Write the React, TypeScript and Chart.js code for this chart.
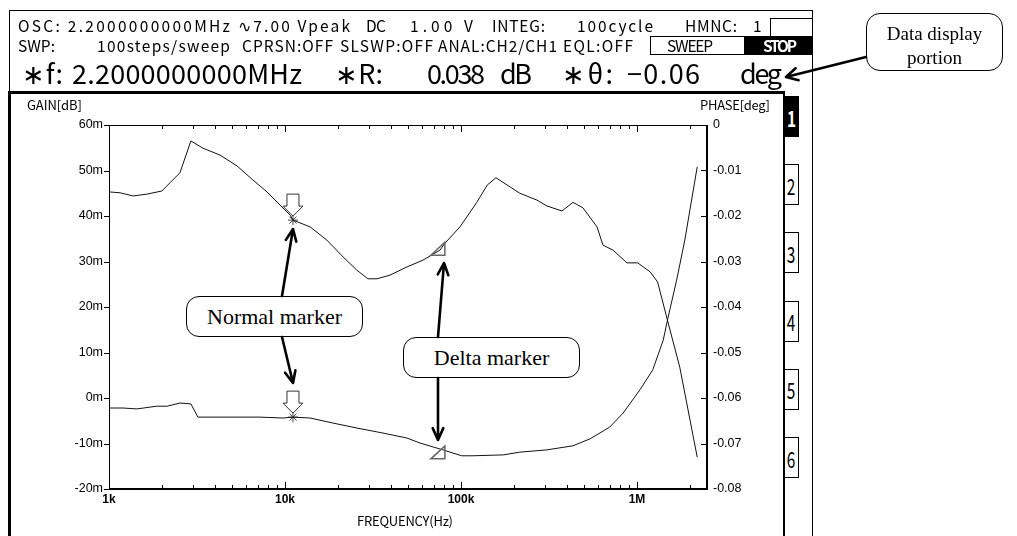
import React, { useEffect, useLayoutEffect, useRef } from 'react';
import { Chart, registerables } from 'chart.js';
Chart.register(...registerables);

// ---------- data ----------
const gainFreq = [1000, 1155, 1370, 1640, 2000, 2220, 2530, 2920, 3420, 4270, 5340, 6580, 7900, 9370, 10700, 11100, 13900, 17300, 21400, 25600, 29600, 33300, 39500, 49300, 60800, 76000, 81000, 98700, 123000, 141000, 158000, 190000, 216000, 270000, 308000, 375000, 433000, 493000, 593000, 641000, 731000, 877000, 1010000, 1190000, 1310000, 1490000, 1750000, 2200000];
const gainValues = [45.3, 45.1, 44.4, 44.8, 45.5, 47.3, 49.5, 56.5, 54.9, 53.4, 51.0, 47.9, 45.3, 42.4, 40.2, 39.1, 37.6, 34.7, 31.0, 28.1, 26.2, 26.2, 27.0, 28.8, 30.3, 32.5, 34.0, 37.6, 43.0, 46.8, 48.4, 46.4, 45.0, 43.5, 42.2, 41.1, 43.0, 41.8, 37.6, 33.6, 32.5, 29.7, 29.7, 27.7, 25.5, 17.1, 6.8, -13.0];

const phaseFreq = [1000, 1200, 1440, 1870, 2140, 2530, 2920, 3200, 4110, 7210, 9740, 11100, 13900, 18700, 25600, 36000, 49300, 58500, 78900, 101000, 117000, 174000, 216000, 308000, 433000, 540000, 700000, 835000, 1040000, 1230000, 1410000, 1490000, 1680000, 1870000, 2200000];
const phaseValues = [-0.0622, -0.0622, -0.0624, -0.0618, -0.0618, -0.0611, -0.0613, -0.0642, -0.0642, -0.0642, -0.0644, -0.0642, -0.0644, -0.0655, -0.0666, -0.0677, -0.0688, -0.0699, -0.0714, -0.0727, -0.0727, -0.0725, -0.0719, -0.0714, -0.0705, -0.0690, -0.0664, -0.0633, -0.0582, -0.0538, -0.0473, -0.0429, -0.0341, -0.0253, -0.0092];

const normalMarkerFreq = 11100;
const normalMarkerGain = 39.1;
const normalMarkerPhase = -0.0642;
const deltaMarkerFreq = 81000;
const deltaMarkerGain = 34.0;
const deltaMarkerPhase = -0.0714;

const freqDecades = [1000, 10000, 100000, 1000000];
const freqDecadeLabels = ['1k', '10k', '100k', '1M'];
const freqMinorSteps = [2, 3, 4, 5, 6, 7, 8, 9];
const freqMin = 1000;
const freqMax = 2500000;

const gainTicks = [60, 50, 40, 30, 20, 10, 0, -10, -20];
const gainTickLabels = ['60m', '50m', '40m', '30m', '20m', '10m', '0m', '-10m', '-20m'];
const phaseTicks = [0, -0.01, -0.02, -0.03, -0.04, -0.05, -0.06, -0.07, -0.08];
const phaseTickLabels = ['0', '-0.01', '-0.02', '-0.03', '-0.04', '-0.05', '-0.06', '-0.07', '-0.08'];

const tabLabels = ['1', '2', '3', '4', '5', '6'];

// ---------- header layout ----------
const row1: [string, number, number][] = [
  ['OSC: 2.2000000000MHz', 18, 212],
  ['∿7.00 Vpeak', 238, 112],
  ['DC', 366, 20],
  ['1.00 V', 410, 63],
  ['INTEG:', 492, 53],
  ['100cycle', 577, 76],
  ['HMNC:', 685, 52],
  ['1', 753, 7],
];
const row2: [string, number, number][] = [
  ['SWP:', 18, 37],
  ['100steps/sweep', 97, 133],
  ['CPRSN:OFF', 242, 91],
  ['SLSWP:OFF', 340, 93],
  ['ANAL:CH2/CH1', 438, 119],
  ['EQL:OFF', 563, 70],
  ['SWEEP', 667, 46],
];
const row3: [string, number, number][] = [
  ['∗f:', 22, 41],
  ['2.2000000000MHz', 72, 230],
  ['∗R:', 335, 48],
  ['0.038', 427, 58],
  ['dB', 500, 32],
  ['∗θ:', 562, 51],
  ['−0.06', 627, 73],
  ['deg', 740, 42],
];

const GOTHIC = '"Noto Sans CJK JP", "Noto Sans", sans-serif';
const SERIF = '"Liberation Serif", "DejaVu Serif", serif';

function FitText(props: { text: string; x: number; cy: number; w: number; size: number; family?: string; weight?: number | string; color?: string }) {
  const { text, x, cy, w, size, family = GOTHIC, weight = 400, color = '#000' } = props;
  const ref = useRef<HTMLSpanElement>(null);
  useLayoutEffect(() => {
    const el = ref.current;
    if (!el) return;
    const fit = () => {
      el.style.letterSpacing = '0px';
      const nat = el.getBoundingClientRect().width;
      const n = Array.from(text).length;
      if (n > 1) el.style.letterSpacing = `${(w - nat) / (n - 1)}px`;
    };
    fit();
    (document as any).fonts?.ready?.then(fit);
  }, [text, w, size]);
  return (
    <span
      ref={ref}
      style={{
        position: 'absolute', left: x, top: cy - size * 0.513, fontSize: size, lineHeight: `${size}px`,
        fontFamily: family, fontWeight: weight as any, color, whiteSpace: 'pre',
      }}
    >{text}</span>
  );
}

function arrowPath(x1: number, y1: number, x2: number, y2: number, head = 13, spread = 0.42) {
  const a = Math.atan2(y2 - y1, x2 - x1);
  const hx1 = x2 - head * Math.cos(a - spread), hy1 = y2 - head * Math.sin(a - spread);
  const hx2 = x2 - head * Math.cos(a + spread), hy2 = y2 - head * Math.sin(a + spread);
  return `M${x1},${y1} L${x2},${y2} M${hx1},${hy1} L${x2},${y2} L${hx2},${hy2}`;
}

const line = (l: number, t: number, w: number, h: number, key: string) => (
  <div key={key} style={{ position: 'absolute', left: l, top: t, width: w, height: h, background: '#000' }} />
);

const overlayPlugin = {
  id: 'overlay',
  afterDraw(chart: any) {
    const { ctx, chartArea: a, scales } = chart;
    const x = scales.x, y = scales.y, y1 = scales.y1;
    ctx.save();
    ctx.strokeStyle = '#000';
    // frame
    ctx.lineWidth = 1;
    ctx.beginPath();
    ctx.moveTo(a.left, a.top + 0.5); ctx.lineTo(a.right, a.top + 0.5);
    ctx.moveTo(a.left + 0.5, a.top); ctx.lineTo(a.left + 0.5, a.bottom);
    ctx.stroke();
    ctx.lineWidth = 2;
    ctx.beginPath();
    ctx.moveTo(a.right, a.top); ctx.lineTo(a.right, a.bottom + 1);
    ctx.moveTo(a.left, a.bottom); ctx.lineTo(a.right + 1, a.bottom);
    ctx.stroke();
    // x ticks (inside, top and bottom)
    ctx.lineWidth = 1;
    ctx.beginPath();
    x.ticks.forEach((t: any) => {
      const px = Math.round(x.getPixelForValue(t.value)) + 0.5;
      const len = freqDecades.includes(t.value) ? 7 : 4;
      if (t.value === freqMin) return;
      ctx.moveTo(px, a.bottom); ctx.lineTo(px, a.bottom - len);
      ctx.moveTo(px, a.top); ctx.lineTo(px, a.top + len);
    });
    // y ticks
    y.ticks.forEach((t: any) => {
      const py = Math.round(y.getPixelForValue(t.value)) + 0.5;
      ctx.moveTo(a.left - 5, py); ctx.lineTo(a.left, py);
    });
    y1.ticks.forEach((t: any) => {
      const py = Math.round(y1.getPixelForValue(t.value)) + 0.5;
      ctx.moveTo(a.right - 6, py); ctx.lineTo(a.right, py);
    });
    ctx.stroke();
    // normal marker open arrows
    const block = (mx: number, my: number) => {
      ctx.beginPath();
      ctx.moveTo(mx - 6, my - 26); ctx.lineTo(mx + 6, my - 26); ctx.lineTo(mx + 6, my - 14);
      ctx.lineTo(mx + 10, my - 14); ctx.lineTo(mx, my - 4); ctx.lineTo(mx - 10, my - 14);
      ctx.lineTo(mx - 6, my - 14); ctx.closePath();
      ctx.fillStyle = '#fff'; ctx.fill();
      ctx.strokeStyle = '#333'; ctx.lineWidth = 1; ctx.stroke();
    };
    const nx = x.getPixelForValue(normalMarkerFreq);
    block(nx, y.getPixelForValue(normalMarkerGain));
    block(nx, y1.getPixelForValue(normalMarkerPhase));
    // delta marker triangles
    const tri = (mx: number, my: number) => {
      ctx.beginPath();
      ctx.moveTo(mx, my - 1); ctx.lineTo(mx, my + 12); ctx.lineTo(mx - 14, my + 12); ctx.closePath();
      ctx.strokeStyle = '#666'; ctx.lineWidth = 1.5; ctx.stroke();
    };
    const dx = x.getPixelForValue(deltaMarkerFreq);
    tri(dx, y.getPixelForValue(deltaMarkerGain));
    tri(dx, y1.getPixelForValue(deltaMarkerPhase) - 3);
    ctx.restore();
  },
};

export default function App() {
  const canvasRef = useRef<HTMLCanvasElement>(null);

  useEffect(() => {
    const freqTicks = freqDecades
      .flatMap((d) => [d, ...freqMinorSteps.map((m) => m * d)])
      .filter((v) => v <= freqMax);
    const chart = new Chart(canvasRef.current as HTMLCanvasElement, {
      type: 'line',
      data: {
        datasets: [
          {
            data: gainFreq.map((f, i) => ({ x: f, y: gainValues[i] })),
            yAxisID: 'y', borderColor: '#111', borderWidth: 1, pointRadius: 0, tension: 0,
          },
          {
            data: phaseFreq.map((f, i) => ({ x: f, y: phaseValues[i] })),
            yAxisID: 'y1', borderColor: '#111', borderWidth: 1, pointRadius: 0, tension: 0,
          },
          {
            data: [{ x: normalMarkerFreq, y: normalMarkerGain }],
            yAxisID: 'y', showLine: false, pointStyle: 'star', pointRadius: 5, borderColor: '#444', borderWidth: 1,
          },
          {
            data: [{ x: normalMarkerFreq, y: normalMarkerPhase }],
            yAxisID: 'y1', showLine: false, pointStyle: 'star', pointRadius: 5, borderColor: '#444', borderWidth: 1,
          },
        ] as any,
      },
      options: {
        responsive: false,
        animation: false,
        events: [],
        layout: { padding: { top: 125, left: 0, right: 0, bottom: 0 } },
        plugins: { legend: { display: false }, tooltip: { enabled: false } },
        scales: {
          x: {
            type: 'logarithmic', min: freqMin, max: freqMax, position: 'bottom',
            grid: { display: false, drawTicks: false }, border: { display: false },
            afterBuildTicks: (s: any) => { s.ticks = freqTicks.map((v) => ({ value: v })); },
            afterFit: (s: any) => { s.height = 47; },
            ticks: {
              autoSkip: false, maxRotation: 0, padding: 3, color: '#000',
              font: { family: '"Liberation Sans", Arial, sans-serif', size: 12, weight: 'bold' },
              callback: (v: any) => {
                const i = freqDecades.indexOf(Number(v));
                return i >= 0 ? freqDecadeLabels[i] : '';
              },
            },
          },
          y: {
            position: 'left', min: -20, max: 60,
            grid: { display: false, drawTicks: false }, border: { display: false },
            afterBuildTicks: (s: any) => { s.ticks = gainTicks.map((v) => ({ value: v })); },
            afterFit: (s: any) => { s.width = 109; },
            ticks: {
              padding: 6, color: '#000',
              font: { family: '"Liberation Sans", Arial, sans-serif', size: 12.5 },
              callback: (v: any) => gainTickLabels[gainTicks.indexOf(Number(v))] ?? '',
            },
          },
          y1: {
            position: 'right', min: -0.08, max: 0,
            grid: { display: false, drawTicks: false }, border: { display: false },
            afterBuildTicks: (s: any) => { s.ticks = phaseTicks.map((v) => ({ value: v })); },
            afterFit: (s: any) => { s.width = 1017 - 707; },
            ticks: {
              padding: 6, color: '#000',
              font: { family: '"Liberation Sans", Arial, sans-serif', size: 12.5 },
              callback: (v: any) => {
                const i = phaseTicks.findIndex((p) => Math.abs(p - Number(v)) < 1e-9);
                return i >= 0 ? phaseTickLabels[i] : '';
              },
            },
          },
        },
      } as any,
      plugins: [overlayPlugin],
    });
    return () => chart.destroy();
  }, []);

  return (
    <div style={{ position: 'absolute', left: 0, top: 0, width: 1017, height: 536, background: '#fff', overflow: 'hidden' }}>
      {line(9, 10, 804, 1, 'ht')}
      {line(9, 10, 1, 82, 'hl')}
      {line(812, 10, 1, 526, 'hr')}
      {line(8, 91, 777, 3, 'pt')}
      {line(8, 91, 3, 445, 'pl')}
      {line(783, 91, 2, 445, 'pr')}
      <div style={{ position: 'absolute', left: 770, top: 18, width: 43, height: 19, border: '1px solid #000', boxSizing: 'border-box' }} />
      <div style={{ position: 'absolute', left: 650, top: 36, width: 95, height: 19, border: '1px solid #000', boxSizing: 'border-box', background: '#fff' }} />
      <div style={{ position: 'absolute', left: 744, top: 36, width: 69, height: 19, background: '#000' }} />
      {tabLabels.map((t, i) => (
        <div key={t} style={{
          position: 'absolute', left: 784, top: 96 + i * 68.2, width: 15, height: 41, boxSizing: 'border-box',
          border: '1px solid #000', background: i === 0 ? '#000' : '#fff', color: i === 0 ? '#fff' : '#000',
          display: 'flex', alignItems: 'center', justifyContent: 'center', fontFamily: GOTHIC,
          fontSize: 22, fontWeight: i === 0 ? 700 : 400,
        }}>
          <span style={{ display: 'inline-block', transform: 'scaleX(0.7)' }}>{t}</span>
        </div>
      ))}
      <canvas ref={canvasRef} width={1017} height={536} style={{ position: 'absolute', left: 0, top: 0, width: 1017, height: 536 }} />

      {row1.map(([t, x, w]) => <FitText key={'a' + t} text={t} x={x} cy={26} w={w} size={15.5} />)}
      {row2.map(([t, x, w]) => <FitText key={'b' + t} text={t} x={x} cy={46} w={w} size={15.5} />)}
      <FitText text="STOP" x={763} cy={45.5} w={34} size={15.5} weight={700} color="#fff" />
      {row3.map(([t, x, w]) => <FitText key={'c' + t} text={t} x={x} cy={72.5} w={w} size={27} />)}

      <FitText text="GAIN[dB]" x={27} cy={105} w={55} size={13} />
      <FitText text="PHASE[deg]" x={700} cy={105} w={70} size={13} />
      <FitText text="FREQUENCY(Hz)" x={357} cy={521} w={96} size={13} />

      <div style={{ position: 'absolute', left: 186, top: 296, width: 177, height: 41, boxSizing: 'border-box', border: '1.5px solid #000', borderRadius: 13, background: '#fff', fontFamily: SERIF, fontSize: 22, display: 'flex', alignItems: 'center', justifyContent: 'center' }}>Normal marker</div>
      <div style={{ position: 'absolute', left: 403, top: 337, width: 177, height: 41, boxSizing: 'border-box', border: '1.5px solid #000', borderRadius: 13, background: '#fff', fontFamily: SERIF, fontSize: 22, display: 'flex', alignItems: 'center', justifyContent: 'center' }}>Delta marker</div>
      <div style={{ position: 'absolute', left: 866, top: 13, width: 137, height: 58, boxSizing: 'border-box', border: '1.5px solid #000', borderRadius: 14, background: '#fff', fontFamily: SERIF, fontSize: 19 }}>
        <div style={{ position: 'absolute', left: 0, right: 0, top: 9, textAlign: 'center', lineHeight: '22px' }}>Data display</div>
        <div style={{ position: 'absolute', left: 0, right: 0, top: 33, textAlign: 'center', lineHeight: '22px' }}>portion</div>
      </div>

      <svg width={1017} height={536} style={{ position: 'absolute', left: 0, top: 0, pointerEvents: 'none' }}>
        <g fill="none" stroke="#000" strokeWidth={2.6} strokeLinecap="round" strokeLinejoin="round">
          <path d={arrowPath(282, 296, 293, 229)} />
          <path d={arrowPath(282, 337, 293, 383)} />
          <path d={arrowPath(438, 337, 444, 263)} />
          <path d={arrowPath(438, 378, 438, 440)} />
          <path d={arrowPath(866, 57, 786, 77, 13, 0.5)} />
        </g>
      </svg>
    </div>
  );
}
